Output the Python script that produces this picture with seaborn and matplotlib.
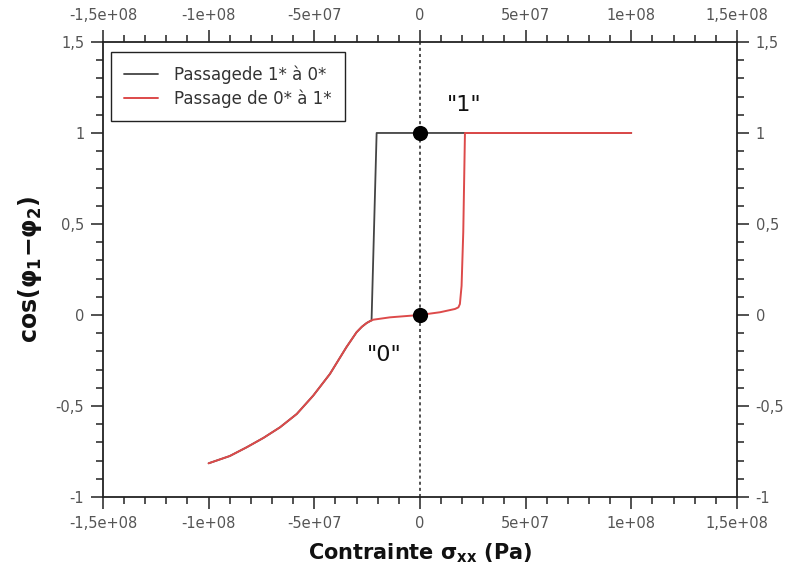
import numpy as np
import pandas as pd
import matplotlib
matplotlib.use("Agg")
import matplotlib.pyplot as plt
from matplotlib.ticker import MultipleLocator, FixedLocator
import seaborn as sns

# ---- data ----
red_x = [-1.0e8, -9.0e7, -8.2e7, -7.4e7, -6.62e7, -5.83e7, -5.05e7, -4.26e7,
         -3.48e7, -3.0e7, -2.75e7, -2.52e7, -2.35e7, -2.21e7, -1.42e7, 0.0,
         9.5e6, 1.66e7, 1.82e7, 1.89e7, 1.97e7, 2.05e7, 2.13e7, 1.0e8]
red_y = [-0.815, -0.775, -0.727, -0.675, -0.617, -0.544, -0.443, -0.324,
         -0.177, -0.095, -0.065, -0.044, -0.033, -0.026, -0.013, 0.0,
         0.015, 0.033, 0.042, 0.06, 0.16, 0.456, 1.0, 1.0]

black_x = [1.0e8, -2.05e7, -2.29e7, -2.35e7, -2.52e7, -2.75e7, -3.0e7, -3.48e7,
           -4.26e7, -5.05e7, -5.83e7, -6.62e7, -7.4e7, -8.2e7, -9.0e7, -1.0e8]
black_y = [1.0, 1.0, -0.03, -0.033, -0.044, -0.065, -0.095, -0.177,
           -0.324, -0.443, -0.544, -0.617, -0.675, -0.727, -0.775, -0.815]

dots_x = [0.0, 0.0]
dots_y = [1.0, 0.0]

x_ticks = [-1.5e8, -1e8, -5e7, 0, 5e7, 1e8, 1.5e8]
x_tick_labels = ["-1,5e+08", "-1e+08", "-5e+07", "0", "5e+07", "1e+08", "1,5e+08"]
y_ticks = [-1, -0.5, 0, 0.5, 1, 1.5]
y_tick_labels = ["-1", "-0,5", "0", "0,5", "1", "1,5"]

label_black = "Passagede 1* à 0*"
label_red = "Passage de 0* à 1*"

# ---- figure ----
sns.set_style("ticks")
plt.rcParams["font.family"] = ["DejaVu Sans"]
plt.rcParams["mathtext.fontset"] = "dejavusans"

fig = plt.figure(figsize=(7.89, 5.75), dpi=100)
ax = fig.add_axes([0.1305, 0.1357, 0.8035, 0.7913])

df_black = pd.DataFrame({"x": black_x, "y": black_y})
df_red = pd.DataFrame({"x": red_x, "y": red_y})

sns.lineplot(data=df_black, x="x", y="y", sort=False, estimator=None,
             color="#444444", lw=1.3, ax=ax, label=label_black)
sns.lineplot(data=df_red, x="x", y="y", sort=False, estimator=None,
             color="#dd4a4a", lw=1.4, ax=ax, label=label_red)

ax.axvline(0, color="#222222", lw=1.1, linestyle=(0, (2, 2)), zorder=1)
sns.scatterplot(x=dots_x, y=dots_y, color="black", s=120, edgecolor="black",
                linewidth=0, ax=ax, zorder=5)

ax.text(2.1e7, 1.155, '"1"', fontsize=16, ha="center", va="center", color="#111111")
ax.text(-1.7e7, -0.22, '"0"', fontsize=16, ha="center", va="center", color="#111111")

ax.set_xlim(-1.5e8, 1.5e8)
ax.set_ylim(-1, 1.5)
ax.xaxis.set_major_locator(FixedLocator(x_ticks))
ax.set_xticklabels(x_tick_labels)
ax.yaxis.set_major_locator(FixedLocator(y_ticks))
ax.set_yticklabels(y_tick_labels)
ax.xaxis.set_minor_locator(MultipleLocator(1e7))
ax.yaxis.set_minor_locator(MultipleLocator(0.1))

ax.tick_params(which="both", direction="out", top=True, right=True,
               labeltop=True, labelright=True, colors="#222222",
               labelcolor="#555555", labelsize=10.5, width=1.1)
ax.tick_params(which="major", length=8.5, pad=5)
ax.tick_params(which="minor", length=5)
for s in ax.spines.values():
    s.set_visible(True)
    s.set_linewidth(1.3)
    s.set_color("#222222")

ax.set_xlabel(r"Contrainte $\mathbf{\sigma_{xx}}$ (Pa)", fontsize=15,
              fontweight="bold", labelpad=8, color="#111111")
ax.set_ylabel(r"$\mathbf{cos(}\boldsymbol{\varphi}_\mathbf{1}\mathbf{-}\boldsymbol{\varphi}_\mathbf{2}\mathbf{)}$",
              fontsize=17, labelpad=8, color="#111111")

leg = ax.legend(loc="upper left", fontsize=12, frameon=True, fancybox=False,
                edgecolor="#222222", framealpha=1, handlelength=2.0,
                borderpad=0.8, labelspacing=0.35, handletextpad=1.0,
                bbox_to_anchor=(0.0126, 0.978), borderaxespad=0)
leg.get_frame().set_linewidth(1.0)
for t in leg.get_texts():
    t.set_color("#333333")

fig.savefig("out.png", dpi=100)
